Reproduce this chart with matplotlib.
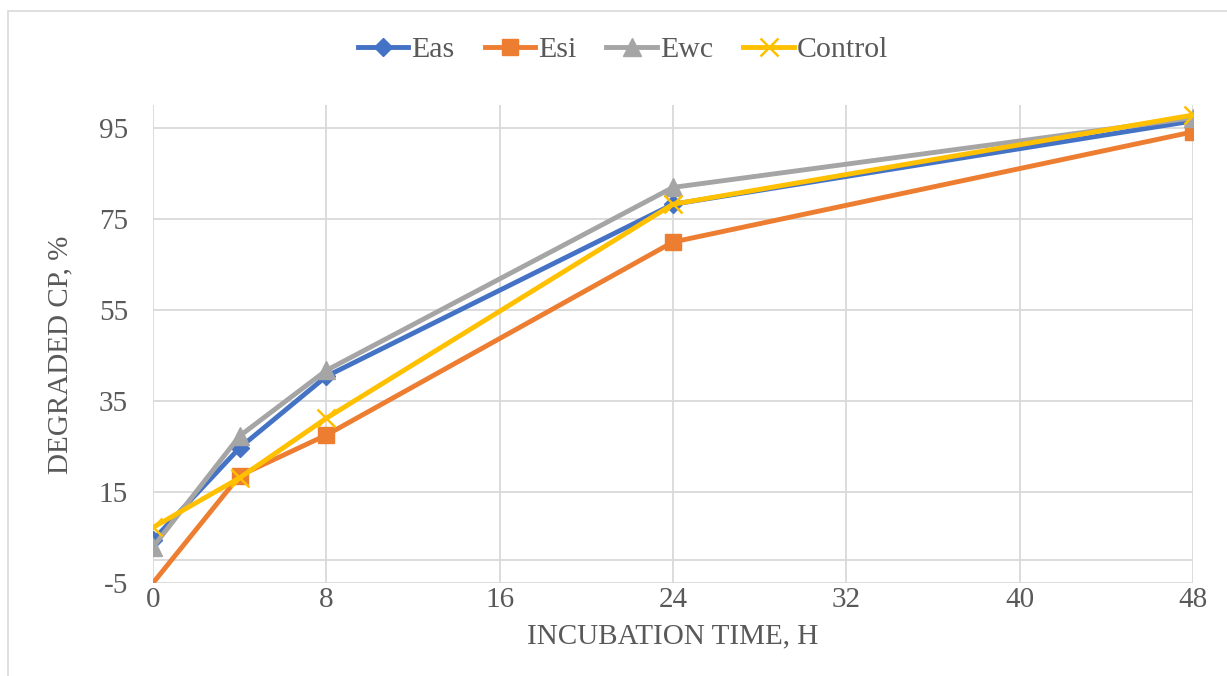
import matplotlib.pyplot as plt
from matplotlib.patches import Rectangle

# incubation hours
hours = [0, 4, 8, 24, 48]

eas = [4.4, 24.7, 40.4, 78.2, 96.5]
esi = [-5.0, 18.6, 27.5, 69.9, 94.1]
ewc = [2.9, 27.3, 41.7, 81.9, 97.2]
control = [7.2, 18.1, 31.2, 78.2, 97.8]

x_ticks = [0, 8, 16, 24, 32, 40, 48]
y_ticks = [-5, 15, 35, 55, 75, 95]

plt.rcParams['font.family'] = ['Liberation Serif', 'DejaVu Serif']
plt.rcParams['axes.unicode_minus'] = False
grey_txt = '#595959'
grid_c = '#D9D9D9'

fig = plt.figure(figsize=(12.27, 6.76), dpi=100)
ax = fig.add_axes([153/1227, 93/676, 1040/1227, 478/676])

# chart border
fig.patches.append(Rectangle((8/1227, -0.1), 1.2, 0.1 + 1 - 11/676,
                             transform=fig.transFigure, fill=False,
                             edgecolor=grid_c, linewidth=1.2))

lw = 3.5
ax.plot(hours, eas, color='#4472C4', lw=lw, marker='D', ms=9.5, label='Eas', zorder=3)
# first Esi point sits on the axis corner, excel hides its marker
ax.plot(hours, esi, color='#ED7D31', lw=lw, marker='s', ms=11.5, markevery=[1, 2, 3, 4],
        label='Esi', zorder=3)
ax.plot(hours, ewc, color='#A5A5A5', lw=lw, marker='^', ms=12.5, label='Ewc', zorder=3)
ax.plot(hours, control, color='#FFC000', lw=lw, marker='x', ms=12.5, mew=1.8,
        label='Control', zorder=3)

ax.set_xlim(0, 48)
ax.set_ylim(-5, 100)
ax.set_xticks(x_ticks)
ax.set_yticks(y_ticks)
ax.grid(True, color=grid_c, lw=1.3, zorder=0)
ax.axhline(0, color=grid_c, lw=1.3, zorder=1)
for s in ax.spines.values():
    s.set_visible(False)
ax.tick_params(length=0, labelsize=21, labelcolor=grey_txt)
ax.tick_params(axis='x', pad=3)
ax.tick_params(axis='y', pad=18)

fig.text(673/1227, 1 - 636/676, 'INCUBATION TIME, H', ha='center', va='center',
         fontsize=21, color=grey_txt)
fig.text(60/1227, 1 - 355/676, 'DEGRADED CP, %', ha='center', va='center',
         rotation=90, fontsize=21, color=grey_txt)

leg = fig.legend(loc='center', bbox_to_anchor=(623/1227, 1 - 50/676), ncol=4,
                 frameon=False, fontsize=21.5, handlelength=1.7, handletextpad=0.1,
                 columnspacing=1.0)
for t in leg.get_texts():
    t.set_color(grey_txt)

fig.savefig('out.png', dpi=100)
